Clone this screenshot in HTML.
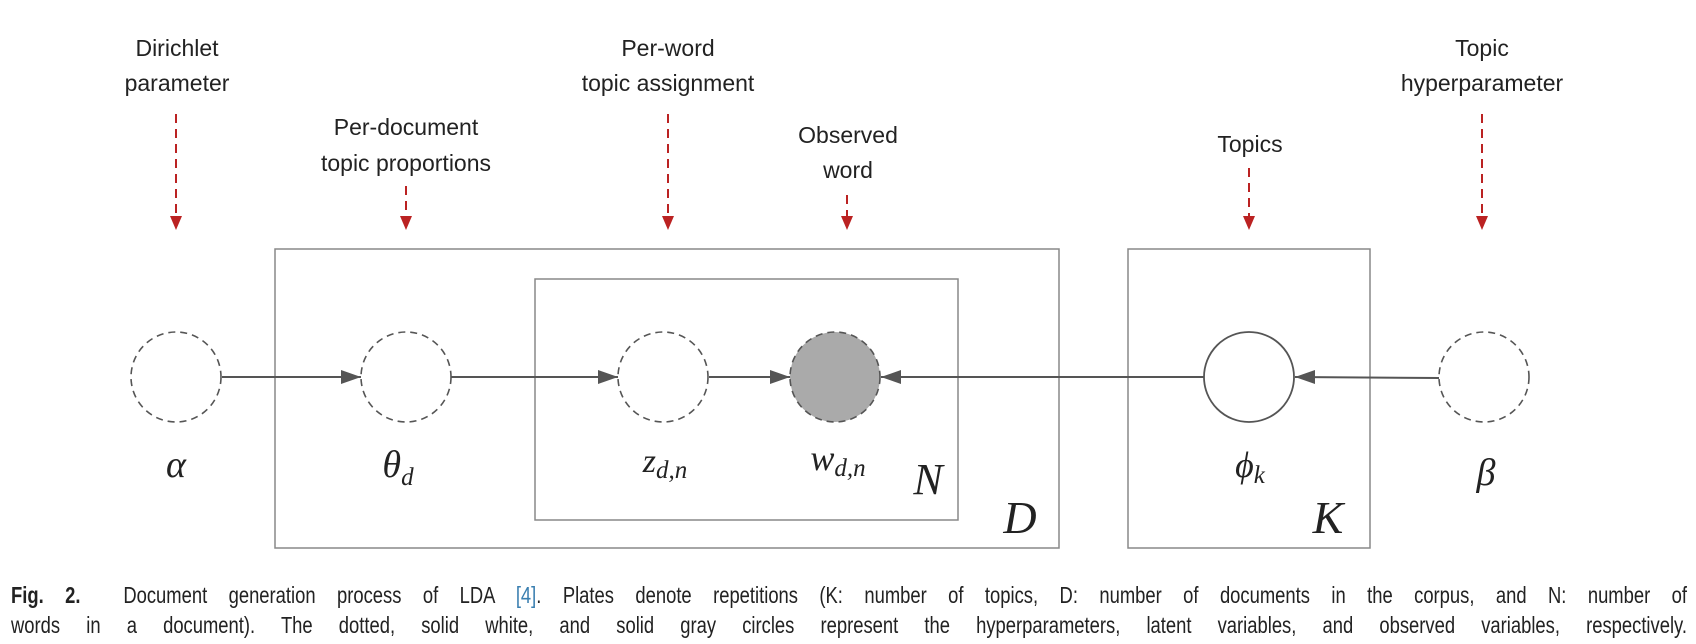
<!DOCTYPE html>
<html><head><meta charset="utf-8"><style>
body{margin:0;background:#fff;width:1696px;height:644px;overflow:hidden;position:relative}
svg{display:block}
.l{font-family:"Liberation Sans",sans-serif;font-size:23px;fill:#222;text-anchor:middle}
.m{font-family:"Liberation Serif",serif;font-style:italic;fill:#222;text-anchor:middle}
.cap{position:absolute;left:11px;width:2095px;transform:scaleX(0.8);transform-origin:0 0;font-family:"Liberation Sans",sans-serif;font-size:23px;color:#222;text-align:justify;text-align-last:justify;white-space:nowrap}
</style></head><body>
<svg width="1696" height="644" viewBox="0 0 1696 644">
<rect x="275" y="249" width="784" height="299" fill="none" stroke="#888" stroke-width="1.5"/>
<rect x="535" y="279" width="423" height="241" fill="none" stroke="#888" stroke-width="1.5"/>
<rect x="1128" y="249" width="242" height="299" fill="none" stroke="#888" stroke-width="1.5"/>
<g stroke="#555" stroke-width="2" fill="none">
<line x1="222" y1="377" x2="361" y2="377"/>
<line x1="451" y1="377" x2="618" y2="377"/>
<line x1="709" y1="377" x2="790" y2="377"/>
<line x1="1204" y1="377" x2="881" y2="377"/>
<line x1="1439" y1="378" x2="1295" y2="377"/>
</g>
<g fill="#555">
<path d="M341,370 L361,377 L341,384 z"/>
<path d="M598,370 L618,377 L598,384 z"/>
<path d="M770,370 L790,377 L770,384 z"/>
<path d="M901,370 L881,377 L901,384 z"/>
<path d="M1315,370 L1295,377 L1315,384 z"/>
</g>
<g stroke="#555" stroke-width="1.6" stroke-dasharray="7,5" fill="none">
<circle cx="176" cy="377" r="45"/>
<circle cx="406" cy="377" r="45"/>
<circle cx="663" cy="377" r="45"/>
<circle cx="1484" cy="377" r="45"/>
</g>
<circle cx="835" cy="377" r="45" fill="#aaa" stroke="#555" stroke-width="1.6" stroke-dasharray="7,5"/>
<circle cx="1249" cy="377" r="45" fill="#fff" stroke="#555" stroke-width="1.8"/>
<g stroke="#b22" stroke-width="2" stroke-dasharray="9,6">
<line x1="176" y1="114" x2="176" y2="218"/>
<line x1="406" y1="186" x2="406" y2="218"/>
<line x1="668" y1="114" x2="668" y2="218"/>
<line x1="847" y1="195" x2="847" y2="218"/>
<line x1="1249" y1="168" x2="1249" y2="218"/>
<line x1="1482" y1="114" x2="1482" y2="218"/>
</g>
<g fill="#b22">
<path d="M170,216 L182,216 L176,230 z"/>
<path d="M400,216 L412,216 L406,230 z"/>
<path d="M662,216 L674,216 L668,230 z"/>
<path d="M841,216 L853,216 L847,230 z"/>
<path d="M1243,216 L1255,216 L1249,230 z"/>
<path d="M1476,216 L1488,216 L1482,230 z"/>
</g>
<text class="l" x="177" y="56">Dirichlet</text>
<text class="l" x="177" y="91">parameter</text>
<text class="l" x="406" y="135">Per-document</text>
<text class="l" x="406" y="171">topic proportions</text>
<text class="l" x="668" y="56">Per-word</text>
<text class="l" x="668" y="91">topic assignment</text>
<text class="l" x="848" y="143">Observed</text>
<text class="l" x="848" y="178">word</text>
<text class="l" x="1250" y="152">Topics</text>
<text class="l" x="1482" y="56">Topic</text>
<text class="l" x="1482" y="91">hyperparameter</text>
<text class="m" x="176" y="477" font-size="38">α</text>
<text class="m" x="398" y="477" font-size="38">θ<tspan font-size="25" dy="8">d</tspan></text>
<text class="m" x="665" y="472" font-size="34">z<tspan font-size="25" dy="6">d,n</tspan></text>
<text class="m" x="838" y="470" font-size="36">w<tspan font-size="25" dy="6">d,n</tspan></text>
<text class="m" x="928" y="494" font-size="44">N</text>
<text class="m" x="1020" y="533" font-size="46">D</text>
<text class="m" x="1250" y="477" font-size="36">ϕ<tspan font-size="25" dy="6">k</tspan></text>
<text class="m" x="1328" y="533" font-size="46">K</text>
<text class="m" x="1486" y="485" font-size="38">β</text>
</svg>
<div class="cap" style="top:582px"><b>Fig. 2.</b>&nbsp; Document generation process of LDA <span style="color:#3a7fb0">[4]</span>. Plates denote repetitions (K: number of topics, D: number of documents in the corpus, and N: number of</div>
<div class="cap" style="top:612px">words in a document). The dotted, solid white, and solid gray circles represent the hyperparameters, latent variables, and observed variables, respectively.</div>
</body></html>
